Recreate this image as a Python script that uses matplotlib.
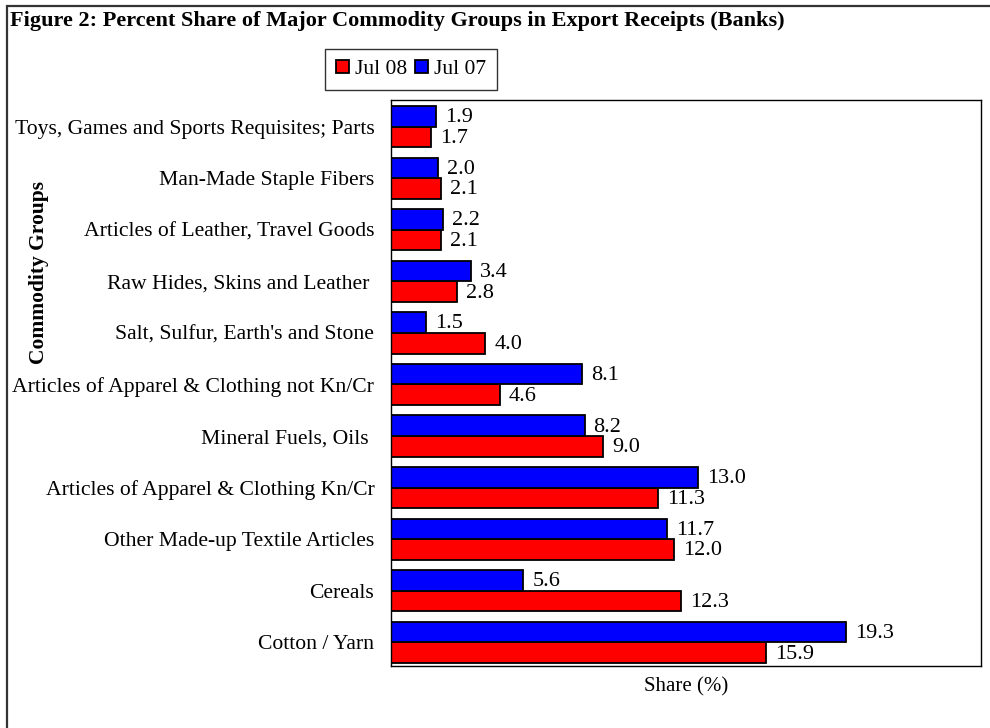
import numpy as np
import matplotlib.pyplot as plt
from matplotlib.patches import Rectangle

categories = [
    "Toys, Games and Sports Requisites; Parts",
    "Man-Made Staple Fibers",
    "Articles of Leather, Travel Goods",
    "Raw Hides, Skins and Leather ",
    "Salt, Sulfur, Earth's and Stone",
    "Articles of Apparel & Clothing not Kn/Cr",
    "Mineral Fuels, Oils ",
    "Articles of Apparel & Clothing Kn/Cr",
    "Other Made-up Textile Articles",
    "Cereals",
    "Cotton / Yarn",
]
jul08 = [1.7, 2.1, 2.1, 2.8, 4.0, 4.6, 9.0, 11.3, 12.0, 12.3, 15.9]
jul07 = [1.9, 2.0, 2.2, 3.4, 1.5, 8.1, 8.2, 13.0, 11.7, 5.6, 19.3]

plt.rcParams['font.family'] = ['Liberation Serif', 'DejaVu Serif']

fig = plt.figure(figsize=(9.9, 7.28), dpi=100)
ax = fig.add_axes([391 / 990, 1 - 666 / 728, 590 / 990, 566 / 728])

# outer frame, running off the right/bottom edge like the original
fig.patches.append(Rectangle((7 / 990, -0.05), 1.2, 1 - 6 / 728 + 0.05,
                             transform=fig.transFigure, fill=False,
                             edgecolor='#333333', linewidth=1.6, clip_on=False))

y = np.arange(len(categories))
h = 0.4
b08 = ax.barh(y + h / 2, jul08, height=h, color='#ff0000', edgecolor='black',
              linewidth=1.3, label='Jul 08')
b07 = ax.barh(y - h / 2, jul07, height=h, color='#0000ff', edgecolor='black',
              linewidth=1.3, label='Jul 07')

for bars, vals in ((b08, jul08), (b07, jul07)):
    for bar, v in zip(bars, vals):
        ax.annotate(f"{v:.1f}", (bar.get_width(), bar.get_y() + bar.get_height() / 2),
                    xytext=(6.5, -1), textcoords='offset points', va='center',
                    ha='left', fontsize=16)

ax.set_xlim(0, 25)
ax.set_ylim(10.458, -0.516)
ax.set_yticks(y)
ax.set_yticklabels(categories, fontsize=15.6)
ax.tick_params(axis='y', length=0, pad=12)
ax.set_xticks([])
ax.set_xlabel("Share (%)", fontsize=15, labelpad=8)
for s in ax.spines.values():
    s.set_linewidth(1.0)

fig.text(10 / 990, 1 - 21 / 728, "Figure 2: Percent Share of Major Commodity Groups in Export Receipts (Banks)",
         fontsize=16, fontweight='bold', va='center', ha='left')
fig.text(39 / 990, 1 - 272 / 728, "Commodity Groups", rotation=90, fontsize=15.5,
         fontweight='bold', va='center', ha='center')

leg = fig.legend(handles=[b08, b07], labels=['Jul 08', 'Jul 07'], ncol=2,
                 loc='center', bbox_to_anchor=(411 / 990, 1 - 69.5 / 728),
                 fontsize=15.5, frameon=True, fancybox=False, handlelength=0.6,
                 handleheight=0.6, handletextpad=0.25, columnspacing=0.4,
                 borderpad=0.5)
leg.get_frame().set_edgecolor('black')
leg.get_frame().set_linewidth(1.0)

fig.savefig("out.png", dpi=100)
